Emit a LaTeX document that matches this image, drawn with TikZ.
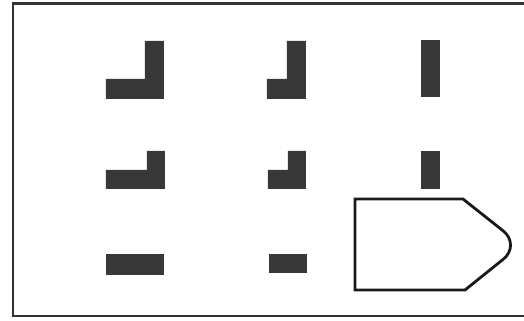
\documentclass[tikz,border=0pt]{standalone}
\begin{document}
\begin{tikzpicture}[x=0.2mm, y=-0.2mm,
    piece/.style={fill=black!78, draw=none},
    frame/.style={draw=black!80, line width=1.2pt},
    outline/.style={draw=black!90, line width=1.6pt, line join=miter}]
    \useasboundingbox (0,0) rectangle (524,321);

    % 外框（右边被裁掉）
    \draw[frame] (524,3.5) -- (13,3.5) -- (13,316) -- (524,316);

    % 第一行
    \fill[piece] (145,41) -- (164,41) -- (164,99) -- (106,99) -- (106,79) -- (145,79) -- cycle;
    \fill[piece] (287,41) -- (306,41) -- (306,99) -- (267,99) -- (267,79) -- (287,79) -- cycle;
    \fill[piece] (421,40) rectangle (440,97);

    % 第二行
    \fill[piece] (147,151) -- (165,151) -- (165,189) -- (106,189) -- (106,170) -- (147,170) -- cycle;
    \fill[piece] (288,151) -- (306,151) -- (306,189) -- (268,189) -- (268,170) -- (288,170) -- cycle;
    \fill[piece] (421,151) rectangle (440,189);

    % 第三行
    \fill[piece] (106,254) rectangle (164,275);
    \fill[piece] (269,254) rectangle (307,273);

    % 空白的问号位置
    \draw[outline] (355,199) -- (463,199) [rounded corners=13pt] -- (521,245) [sharp corners] -- (465,290) -- (355,290) -- cycle;
\end{tikzpicture}
\end{document}
